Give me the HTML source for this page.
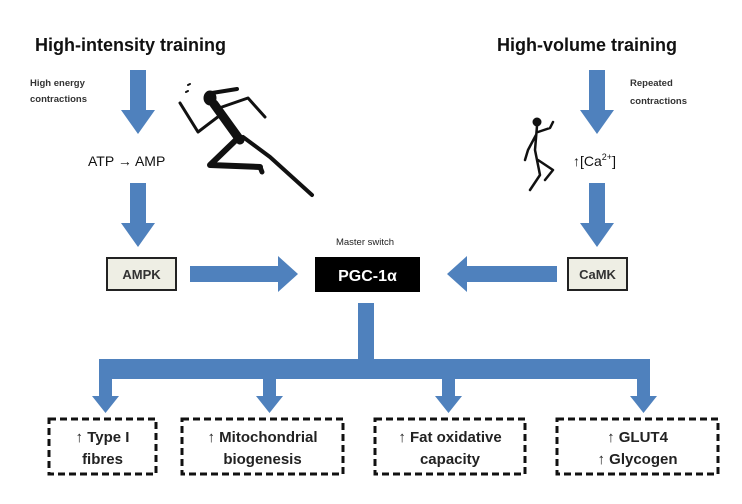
<!DOCTYPE html>
<html><head><meta charset="utf-8"><style>
html,body{margin:0;padding:0;background:#fff;}
svg{display:block;font-family:"Liberation Sans",sans-serif;}
</style></head><body>
<svg width="742" height="504" viewBox="0 0 742 504" xmlns="http://www.w3.org/2000/svg">
<defs>
<g id="dn"><rect x="-8" y="0" width="16" height="42" fill="#4f81bd"/><polygon points="-17,40 17,40 0,64" fill="#4f81bd"/></g>
</defs>
<text x="35" y="51" font-size="18" font-weight="bold" fill="#111">High-intensity training</text>
<text x="497" y="51" font-size="18" font-weight="bold" fill="#111">High-volume training</text>
<text x="30" y="86" font-size="9.5" font-weight="bold" fill="#333">High energy</text>
<text x="30" y="102" font-size="9.5" font-weight="bold" fill="#333">contractions</text>
<text x="630" y="86" font-size="9.5" font-weight="bold" fill="#333">Repeated</text>
<text x="630" y="104" font-size="9.5" font-weight="bold" fill="#333">contractions</text>
<use href="#dn" x="138" y="70"/>
<use href="#dn" x="138" y="183"/>
<use href="#dn" x="597" y="70"/>
<use href="#dn" x="597" y="183"/>
<text x="88" y="166" font-size="14" fill="#111">ATP → AMP</text>
<text x="573" y="166" font-size="14" fill="#111">↑[Ca<tspan font-size="9" dy="-6">2+</tspan><tspan dy="6">]</tspan></text>
<g fill="#111" stroke="#111" stroke-linecap="round" stroke-linejoin="round">
<ellipse cx="210" cy="98" rx="6" ry="7"/>
<path d="M212 93 L237 89" stroke-width="4" fill="none"/>
<path d="M188 85 L190 84 M186 92 L188 91" stroke-width="2" fill="none"/>
<path d="M222 107 L248 98 L265 117" stroke-width="3" fill="none"/>
<path d="M223 113 L198 132 L180 103" stroke-width="3" fill="none"/>
<path d="M214 104 L240 140" stroke-width="9" fill="none"/>
<path d="M238 138 L210 165 L260 167" stroke-width="6" fill="none"/>
<path d="M243 137 L270 157 L312 195" stroke-width="4" fill="none"/>
<path d="M260 167 L262 172" stroke-width="5" fill="none"/>
</g>
<g fill="#111" stroke="#111" stroke-linecap="round" stroke-linejoin="round">
<circle cx="537" cy="122" r="4"/>
<path d="M537 126 L535 150 L540 175 L530 190 M536 135 L528 150 L525 160 M538 132 L550 128 L553 122 M538 160 L553 170 L545 180" stroke-width="2.5" fill="none"/>
</g>
<rect x="107" y="258" width="69" height="32" fill="#eeeee4" stroke="#222" stroke-width="2"/>
<text x="141.5" y="279" font-size="13" font-weight="bold" text-anchor="middle" fill="#333">AMPK</text>
<rect x="568" y="258" width="59" height="32" fill="#eeeee4" stroke="#222" stroke-width="2"/>
<text x="597.5" y="279" font-size="13" font-weight="bold" text-anchor="middle" fill="#333">CaMK</text>
<text x="365" y="245" font-size="9.5" text-anchor="middle" fill="#222">Master switch</text>
<rect x="315" y="257" width="105" height="35" fill="#000"/>
<text x="367.5" y="281" font-size="16" font-weight="bold" text-anchor="middle" fill="#fff">PGC-1α</text>
<polygon points="190,266 278,266 278,256 298,274 278,292 278,282 190,282" fill="#4f81bd"/>
<polygon points="557,266 467,266 467,256 447,274 467,292 467,282 557,282" fill="#4f81bd"/>
<rect x="358" y="303" width="16" height="70" fill="#4f81bd"/>
<rect x="99" y="359" width="551" height="20" fill="#4f81bd"/>
<g fill="#4f81bd">
<rect x="99" y="378" width="13" height="20"/><polygon points="92,396 119,396 105.5,413"/>
<rect x="263" y="378" width="13" height="20"/><polygon points="256,396 283,396 269.5,413"/>
<rect x="442" y="378" width="13" height="20"/><polygon points="435,396 462,396 448.5,413"/>
<rect x="637" y="378" width="13" height="20"/><polygon points="630,396 657,396 643.5,413"/>
</g>
<g fill="none" stroke="#111" stroke-width="3" stroke-dasharray="7,4">
<rect x="49" y="419" width="107" height="55"/>
<rect x="182" y="419" width="161" height="55"/>
<rect x="375" y="419" width="150" height="55"/>
<rect x="557" y="419" width="161" height="55"/>
</g>
<g font-size="15" font-weight="bold" text-anchor="middle" fill="#222" style="font-family:'Liberation Sans Narrow','Liberation Sans',sans-serif">
<text x="102.5" y="442">↑ Type I</text><text x="102.5" y="464">fibres</text>
<text x="262.5" y="442">↑ Mitochondrial</text><text x="262.5" y="464">biogenesis</text>
<text x="450" y="442">↑ Fat oxidative</text><text x="450" y="464">capacity</text>
<text x="637.5" y="442">↑ GLUT4</text><text x="637.5" y="464">↑ Glycogen</text>
</g>
</svg>
</body></html>
